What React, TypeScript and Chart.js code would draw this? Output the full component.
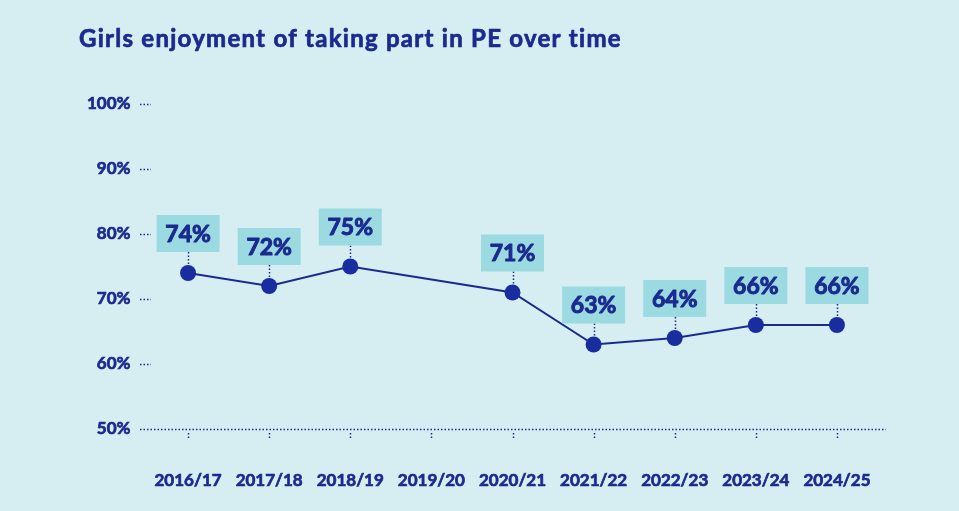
import React, { useEffect, useRef } from "react";
import { Chart, registerables } from "chart.js";

Chart.register(...registerables);

const TITLE = "Girls enjoyment of taking part in PE over time";
const categories = ["2016/17", "2017/18", "2018/19", "2019/20", "2020/21", "2021/22", "2022/23", "2023/24", "2024/25"];
const enjoyment: (number | null)[] = [74, 72, 75, null, 71, 63, 64, 66, 66];
const yTicks = [50, 60, 70, 80, 90, 100];

const BG = "#d6eef2";
const NAVY = "#1b2a8e";
const POINT = "#1a2d9e";
const BOX = "#9bdae0";
const FONT = "Lato, 'Open Sans', sans-serif";

const decor = {
  id: "decor",
  beforeDraw(chart: any) {
    const { ctx, width, height } = chart;
    ctx.save();
    ctx.fillStyle = BG;
    ctx.fillRect(0, 0, width, height);
    ctx.fillStyle = NAVY;
    ctx.strokeStyle = NAVY;
    ctx.lineWidth = 0.7;
    ctx.lineJoin = "round";
    ctx.font = `bold 24px ${FONT}`;
    ctx.textBaseline = "alphabetic";
    ctx.textAlign = "left";
    const w = ctx.measureText(TITLE).width;
    const spacing = Math.max(0, Math.min(2, (542 - w) / (TITLE.length - 1)));
    (ctx as any).letterSpacing = `${spacing}px`;
    ctx.fillText(TITLE, 79, 47);
    ctx.strokeText(TITLE, 79, 47);
    ctx.restore();
  },
  beforeDatasetsDraw(chart: any) {
    const { ctx, scales } = chart;
    const x = scales.x;
    const y = scales.y;
    ctx.save();
    ctx.strokeStyle = NAVY;
    ctx.lineWidth = 1.5;
    ctx.setLineDash([1.5, 2]);
    yTicks.forEach((t) => {
      const py = Math.round(y.getPixelForValue(t)) + 0.5;
      ctx.beginPath();
      ctx.moveTo(140, py);
      ctx.lineTo(t === 50 ? 886 : 151, py);
      ctx.stroke();
    });
    const base = y.getPixelForValue(50);
    categories.forEach((_, i) => {
      const px = Math.round(x.getPixelForValue(i)) + 0.5;
      ctx.beginPath();
      ctx.moveTo(px, base + 4);
      ctx.lineTo(px, base + 11);
      ctx.stroke();
    });
    const meta = chart.getDatasetMeta(0);
    meta.data.forEach((pt: any, i: number) => {
      if (enjoyment[i] == null) return;
      const px = Math.round(pt.x) + 0.5;
      ctx.beginPath();
      ctx.moveTo(px, pt.y - 21);
      ctx.lineTo(px, pt.y - 6);
      ctx.stroke();
    });
    ctx.restore();
  },
  afterDatasetsDraw(chart: any) {
    const { ctx } = chart;
    const meta = chart.getDatasetMeta(0);
    ctx.save();
    meta.data.forEach((pt: any, i: number) => {
      const v = enjoyment[i];
      if (v == null) return;
      const w = 63;
      const h = 37;
      const bx = pt.x - w / 2;
      const by = pt.y - 21 - h;
      ctx.fillStyle = BOX;
      ctx.fillRect(bx, by, w, h);
      ctx.fillStyle = NAVY;
      ctx.strokeStyle = NAVY;
      ctx.lineWidth = 1;
      ctx.lineJoin = "round";
      ctx.font = `bold 23px ${FONT}`;
      ctx.textAlign = "center";
      ctx.textBaseline = "middle";
      ctx.fillText(`${v}%`, pt.x, by + h / 2 + 1);
      ctx.strokeText(`${v}%`, pt.x, by + h / 2 + 1);
    });
    ctx.restore();
  },
};

export default function App() {
  const ref = useRef<HTMLCanvasElement>(null);
  useEffect(() => {
    if (!ref.current) return;
    const chart = new Chart(ref.current, {
      type: "line",
      data: {
        labels: categories,
        datasets: [
          {
            data: enjoyment,
            borderColor: NAVY,
            borderWidth: 2,
            pointRadius: 8,
            pointHoverRadius: 8,
            pointBackgroundColor: POINT,
            pointBorderWidth: 0,
            spanGaps: true,
            tension: 0,
          },
        ],
      },
      options: {
        animation: false,
        responsive: false,
        maintainAspectRatio: false,
        layout: { padding: { left: 79, right: 81.5, top: 104, bottom: 0 } },
        plugins: { legend: { display: false }, tooltip: { enabled: false }, title: { display: false } },
        scales: {
          x: {
            type: "category",
            offset: true,
            grid: { display: false, drawTicks: false },
            border: { display: false },
            ticks: {
              color: NAVY,
              textStrokeColor: NAVY,
              textStrokeWidth: 0.7,
              font: { family: FONT, size: 17, weight: "bold" },
              padding: 41,
              maxRotation: 0,
              autoSkip: false,
            },
            afterFit: (s: any) => {
              s.height = 82;
            },
          },
          y: {
            min: 50,
            max: 100,
            grid: { display: false, drawTicks: false },
            border: { display: false },
            ticks: {
              stepSize: 10,
              color: NAVY,
              textStrokeColor: NAVY,
              textStrokeWidth: 0.7,
              font: { family: FONT, size: 17, weight: "bold" },
              padding: 17,
              callback: (v: any) => `${v}%`,
            },
            afterFit: (s: any) => {
              s.width = 68.5;
            },
          },
        },
      },
      plugins: [decor],
    });
    return () => chart.destroy();
  }, []);
  return (
    <div style={{ position: "fixed", left: 0, top: 0, width: 959, height: 511, background: BG }}>
      <canvas ref={ref} width={959} height={511} style={{ width: 959, height: 511, display: "block" }} />
    </div>
  );
}
